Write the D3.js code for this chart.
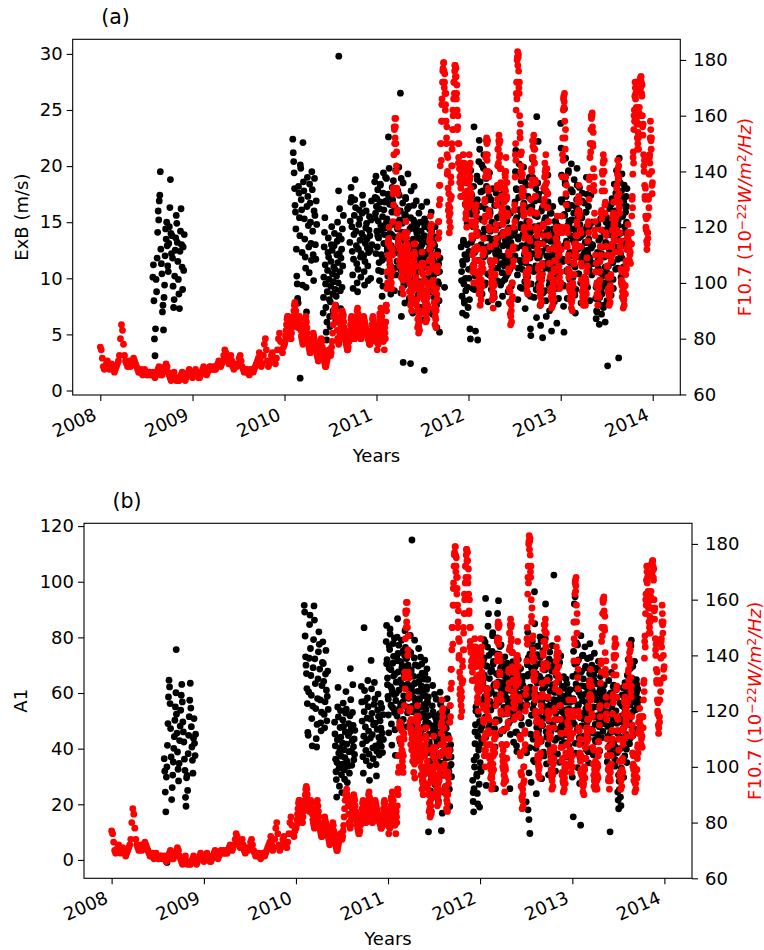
<!DOCTYPE html>
<html>
<head>
<meta charset="utf-8">
<script src="https://cdn.jsdelivr.net/npm/d3@7"></script>
<style>
  body { margin: 0; background: #fff; }
  text { font-family: "DejaVu Sans", sans-serif; }
</style>
</head>
<body>
<svg id="chart" width="764" height="950"></svg>
<script>
// x axis ticks
const years = [2008, 2009, 2010, 2011, 2012, 2013, 2014]

// F10.7 solar flux, one array per year (2008-09 ~4 day steps, 2010-13 ~2 day steps)
const f2008 = [77,76,73,70,69,70,71,72, 70,69,70,71,70,69,68, 69,70,71,72,74,80,85,83, 78,74,72,71,70,71,72,
  70,71,72,73,72,71,70,69, 68,68,69,68,67,68,69, 68,67,67,68,68,67,67,68, 67,66,67,68,69,70,68,67,
  67,68,69,70,71,70,68, 67,66,65,66,67,68,66,65, 66,65,65,66,67,68,67, 66,65,66,67,68,69,68,67]
const f2009 = [66,67,68,69,68,67,66,66, 67,68,69,70,69,68,67, 68,69,70,70,69,69,70,69, 69,70,71,72,71,70,71,
  72,74,76,75,73,72,71,72, 74,72,70,69,70,71,70, 71,73,74,72,70,69,68,69, 68,69,68,67,68,69,69,68,
  69,70,71,72,73,75,72, 70,71,74,78,80,76,72,70, 71,72,74,75,73,72,71, 73,76,80,82,79,76,75,77]
const f2010 = [78,79,81,83,85,87,88,88,87,85,83,81,80,80,82, 84,86,88,90,92,93,92,90,88,86,85,84,85,86,88,
  87,85,83,81,80,79,78,79,81,83,85,87,88,86,84, 82,80,78,77,76,75,75,76,77,79,80,82,81,80,79,
  78,77,76,75,74,73,72,73,75,76,78,79,80,79,77, 76,74,73,72,71,70,70,71,72,73,74,75,76,75,74,
  74,75,77,79,82,85,88,90,91,92,90,88,86,83,80, 79,78,79,81,83,85,87,89,90,89,88,86,84,82,80,
  79,78,77,76,76,77,79,81,83,85,87,88,87,85,83, 81,80,80,82,84,86,88,90,91,89,87,85,83,81,80,
  80,81,82,84,86,88,87,86,85,84,83,82,81,80,80, 79,78,78,79,81,83,85,87,88,87,85,83,81,80,79]
const f2011 = [80,79,79,80,82,84,86,88,89,88,86,84,83,82,81, 80,80,82,86,92,98,104,110,114,116,114,110,106,102,100,
  104,112,122,134,146,155,159,156,150,142,134,126,120,116,114, 113,112,110,108,106,104,102,101,104,108,112,116,118,116,114,
  112,110,108,106,103,100,97,95,94,95,97,100,104,108,111, 110,106,102,98,94,90,87,85,84,86,90,95,100,104,107,
  106,103,100,97,94,92,90,89,90,92,95,99,104,108,112, 116,120,118,114,110,106,101,97,93,90,88,87,90,96,104,
  110,116,122,128,135,142,150,158,166,172,177,179,176,172,168, 164,158,152,146,140,134,128,124,122,125,130,136,142,148,155,
  160,166,172,176,178,177,174,168,162,156,150,145,141,138,136, 134,136,138,140,142,141,139,136,132,128,125,124,127,132,137]
const f2012 = [140,142,141,138,134,128,122,116,110,106,104,106,112,120,128, 124,118,112,108,104,101,99,97,96,98,101,104,107,110,112,
  116,122,130,138,146,151,150,146,140,133,126,119,113,108,104, 102,99,97,95,96,99,103,108,114,121,128,135,142,148,151,
  150,146,141,136,131,127,123,121,122,125,129,134,138,140,136, 131,125,118,111,104,98,93,89,88,90,94,100,106,113,120,
  128,138,150,162,172,180,183,181,176,168,160,152,146,142,138, 134,131,128,124,120,116,112,108,104,101,99,100,104,110,116,
  120,125,130,135,140,145,149,151,148,143,137,131,125,120,117, 114,110,106,102,99,96,95,97,101,107,114,121,128,134,138,
  140,141,139,136,132,127,122,117,112,107,102,98,95,94,95, 96,98,101,104,108,112,116,119,120,118,114,110,106,102,100]
const f2013 = [104,112,124,138,152,162,167,165,158,148,138,128,120,113,108, 105,102,99,97,95,94,93,94,96,99,103,107,110,112,113,
  114,117,121,125,129,131,129,125,119,113,107,101,97,95,96, 98,97,96,95,97,100,104,109,115,122,130,138,145,150,155,
  159,160,156,149,141,133,125,117,110,104,99,96,95,96,98, 100,104,108,113,119,126,133,139,143,144,140,133,125,118,113,
  110,106,102,98,96,95,96,99,103,108,114,119,123,125,121, 117,115,118,123,129,135,139,141,138,132,125,118,111,105,101,
  99,97,95,94,94,96,99,103,108,112,116,118,117,115,112, 110,111,114,118,124,131,139,147,155,162,167,170,168,163,157,
  152,150,152,157,163,169,173,174,172,167,160,153,146,140,135, 130,124,119,115,114,118,124,131,139,146,152,155,148,140,132]
// the other days of 2011-2013 (day after each value above)
const f2011b = [83,76,81,78,85,82,89,86,91,85,88,81,85,79,83, 76,84,80,92,90,104,100,115,110,120,108,113,100,105,98,
  112,110,132,128,156,150,152,159,140,147,125,132,114,121,108, 117,106,113,102,110,98,106,96,110,104,118,112,122,110,118,
  106,113,102,110,97,104,92,99,90,99,93,106,100,114,106, 114,100,106,92,98,84,90,82,88,83,96,90,106,98,111,
  100,107,94,101,89,96,86,93,87,97,91,105,100,115,108, 124,114,121,108,114,99,105,91,97,85,91,84,98,94,110,
  106,122,118,135,130,150,144,164,158,176,172,179,170,175,162, 168,150,156,139,145,126,132,118,127,120,138,131,150,142,162,
  155,172,168,178,174,177,166,171,155,160,143,150,136,142,131, 139,131,143,136,146,137,143,131,137,123,129,120,133,127,142]
const f2012b = [136,146,137,143,130,132,117,121,104,111,100,112,108,126,122, 128,113,117,103,108,96,103,92,100,94,106,99,112,105,116,
  111,129,124,145,140,152,144,151,134,138,120,124,108,113,100, 106,94,101,91,100,95,108,103,119,116,134,130,148,143,153,
  145,151,134,141,125,131,117,126,118,130,124,139,133,145,130, 136,119,124,105,110,93,97,85,92,86,100,95,112,108,126,
  122,146,144,168,166,181,178,182,170,172,154,157,140,147,132, 139,126,133,119,125,111,117,103,109,97,103,96,109,105,122,
  115,130,126,141,137,151,145,153,143,148,131,136,119,125,112, 119,105,111,98,103,92,99,93,106,103,120,117,134,130,143,
  135,146,133,141,127,132,117,122,107,112,97,103,91,98,92, 100,94,105,100,113,108,120,115,124,114,118,106,110,98,104]
const f2013b = [100,120,118,146,144,166,163,168,152,155,132,135,114,118,104, 110,98,104,94,99,91,97,90,100,96,107,103,114,109,117,
  110,122,117,130,126,135,124,129,113,118,101,106,93,99,92, 102,93,99,92,101,96,109,106,121,118,137,134,150,147,160,
  155,161,150,154,135,138,119,122,104,107,95,100,92,99,95, 104,101,113,110,125,123,140,136,146,140,144,128,129,113,117,
  106,110,97,102,92,98,93,102,98,113,110,124,119,129,116, 121,111,123,119,134,131,144,137,142,127,129,113,115,100,104,
  95,100,91,97,92,99,96,107,105,116,113,121,114,118,108, 114,107,118,114,130,127,145,143,160,158,172,166,172,158,161,
  148,154,148,161,160,173,170,174,168,171,156,157,142,144,131, 134,120,123,112,118,116,130,127,145,143,158,151,152,135,136]

// observation windows (decimal years) shared by both black series
const spans = [[2008.57, 2008.91], [2010.09, 2010.35], [2010.42, 2010.64], [2010.71, 2010.95], [2010.98, 2011.69],
  [2011.92, 2012.47], [2012.50, 2012.98], [2013.00, 2013.35], [2013.38, 2013.72]]

// ExB drift (m/s), panel (a)
const exb08 = [10.1,11.2,8.0,4.6,3.1,5.5,9.9,8.8,11.8,14.1,16.0,15.2,16.9,17.4,19.5,12.6,11.3,10.4,7.0,7.6,5.4,8.3,9.4,12.0,14.4,13.5,15.0,12.9,11.1,10.6,
  13.1,14.6,16.3,18.8,14.0,12.2,13.8,11.8,9.3,7.4,8.1,10.2,12.5,13.6,15.6,14.9,13.2,11.5,9.9,8.6,7.3,12.4,14.2,16.2,13.0,11.0,9.0,12.8,10.7,13.9]
const exb10a = [22.4,21.2,20.4,19.4,18.0,16.5,15.9,14.4,12.6,10.2,9.5,8.2,7.8,18.2,17.6,15.4,13.8,20.1,19.8,17.0,16.1,12.3,9.4,22.1,18.6,17.8,15.3,13.5,
  11.9,10.9,9.2,7.0,16.4,19.0,17.3,14.7,12.8,10.5,18.4,16.7,15.0,13.1,11.6,19.5,17.9,14.2,12.1,9.8,16.0,18.9,15.6,13.0,11.7,16.9,14.8]
const exb10b = [6.9,8.3,10.1,12.8,14.1,15.4,11.2,9.5,7.4,5.2,4.5,6.1,8.8,10.7,12.3,13.6,11.9,9.9,8.1,6.6,5.7,7.9,9.3,11.5,13.0,14.6,12.5,10.4,8.6,7.1,
  9.7,11.0,12.9,14.0,10.8,9.0,7.6,6.2,8.4,10.2,12.1,13.3,15.0,11.4,9.6,17.8,13.8,12.2,16.2,10.6,8.9,7.3,11.8,13.5,12.6,9.2,14.4,11.1,6.8,15.6]
const exb10c = [13.2,15.1,16.8,18.1,17.2,14.6,12.4,10.3,9.1,11.7,13.9,15.6,17.0,18.8,16.3,14.2,12.9,11.3,9.6,8.8,10.8,12.6,14.8,16.1,15.3,13.4,11.9,10.1,
  12.2,14.0,15.8,17.4,16.6,13.7,12.0,10.6,9.4,11.5,13.1,14.5,16.0,14.9,13.5,12.7,11.1,9.8,12.3,14.3,15.5,13.8,12.5,10.0,15.2,16.9,13.0]
const exb11 = [18.6,17.2,15.8,19.1,16.4,14.2,12.8,17.9,15.1,13.6,11.4,9.8,16.8,18.3,14.7,12.1,10.6,8.4,15.5,17.6,19.4,16.1,13.9,11.8,7.2,14.5,16.9,18.9,
  15.3,12.4,10.2,13.3,17.3,19.8,16.6,14.0,11.1,9.1,12.9,15.9,18.1,17.0,14.8,12.6,10.9,8.9,13.7,16.3,19.6,15.0,12.3,11.5,14.4,17.7,16.0,
  19.9,17.4,15.2,13.0,10.8,8.7,6.6,12.7,14.9,16.7,18.5,13.4,11.3,9.4,7.8,15.7,17.1,12.0,10.1,14.1,16.2,19.3,13.1,11.0,8.2,9.9,12.5,15.4,
  17.8,14.6,11.7,10.4,6.9,13.5,16.5,18.2,15.0,12.2,9.6,14.3,
  16.9,14.7,12.3,10.6,8.5,13.6,15.8,11.9,9.7,7.4,12.8,14.2,16.4,13.0,10.9,8.9,6.3,11.4,13.8,15.3,12.1,10.0,8.1,14.9,16.8,13.3,11.2,9.4,
  7.0,12.6,14.4,10.7,8.8,13.9,15.9,12.0,9.9,6.8,11.6,13.2,10.3,8.3,12.9,14.6,11.0,9.1,7.6,5.6,10.5,12.4,13.6,9.5,8.0,5.2,11.8]
const exb12a = [12.8,10.6,8.4,6.9,11.2,13.4,9.5,7.8,12.1,10.0,8.9,6.7,11.7,13.0,9.2,7.4,10.8,12.4,8.1,5.5,
  4.6,15.8,13.2,17.4,11.0,9.1,14.6,18.2,16.1,12.3,10.2,5.3,13.8,15.9,19.1,17.0,14.1,11.6,20.4,22.3,21.5,18.6,16.4,13.0,10.7,8.6,15.2,17.8,
  19.8,21.0,14.4,12.0,9.6,16.9,18.9,15.5,12.8,10.4,7.9,13.6,17.3,19.4,16.0,14.2,11.4,9.0,15.0,12.6,18.0,13.5,10.9,8.3,16.5,14.8,12.2,17.6,
  11.8,9.8,15.4,13.1,
  7.7,12.4,14.7,16.8,11.3,9.4,13.9,15.6,10.5,8.4,12.9,17.9,14.0,11.1,9.9,13.4,15.3,10.2,12.0,16.2,13.7,8.8,11.5,14.5,12.7,10.8,15.8,13.2,9.3,11.9]
const exb12b = [14.2,16.8,19.5,21.4,18.0,15.4,12.7,10.3,8.1,13.5,17.2,20.2,16.1,11.6,9.2,14.8,18.7,15.7,12.9,10.8,13.9,17.6,19.9,16.6,12.1,9.7,7.3,11.4,
  14.5,18.3,15.1,13.0,10.1,8.6,12.5,16.3,19.0,14.0,11.8,5.5,4.9,9.5,13.3,17.0,20.6,15.9,12.2,10.6,8.3,14.6,16.9,13.6,11.1,9.0,6.5,12.8,15.5,
  18.5,22.2,17.5,14.3,11.9,9.9,7.6,5.8,13.1,16.0,12.4,10.4,4.7,8.7,11.3,14.9,17.8,15.2,13.4,10.9,8.0,6.6,12.0,14.1,16.6,19.2,13.8,11.5,9.4,
  7.1,12.6,15.8,10.7,8.8,5.3,11.0,13.7,16.4,14.4,12.3,9.6,7.9,10.2,13.0,15.0,11.7,9.1,6.0,12.9,14.7,10.5,8.2,11.2]
const exb13a = [23.8,21.6,19.2,16.8,14.1,11.7,9.4,7.5,5.2,12.9,15.6,18.4,20.7,17.3,13.3,10.6,8.2,14.7,16.2,19.6,15.1,12.2,9.9,11.4,13.8,17.9,20.2,
  16.5,14.4,12.0,10.1,8.6,15.8,18.8,13.1,11.0,6.9,9.0,14.0,17.0,19.8,15.3,12.6,10.4,13.6,16.0,18.1,14.8,11.9,9.6,7.8,12.8,15.4,17.6,13.9,
  11.2,8.8,14.3,16.7,12.4,10.0,13.2,15.9,19.0,14.6,11.6,9.2,12.1,16.4,13.5,10.8,8.0,11.8,14.9,17.4,12.7,10.3,15.0,13.0,11.3]
const exb13b = [8.2,6.4,7.1,9.6,12.3,14.8,10.9,7.7,5.9,11.5,13.6,15.3,9.0,6.8,8.6,12.8,10.2,7.4,14.1,11.9,9.3,6.1,13.2,15.0,10.6,8.0,12.0,14.5,11.1,
  9.8,13.9,16.2,12.6,10.3,8.5,14.9,17.1,13.0,11.4,9.1,15.7,18.4,16.0,12.4,10.8,14.2,19.6,17.5,13.5,11.7,15.2,18.9,20.7,16.6,14.0,12.2,10.1,
  17.8,19.3,15.5,13.3,11.0,16.8,18.3,14.6,12.9,15.9,17.3,16.4,18.0]
// second set of days inside the longer windows (2011 to 2013)
const exb11b = [15.4,12.2,17.1,13.8,10.7,16.2,18.4,14.3,11.6,9.3,13.1,16.8,19.0,15.0,12.7,17.5,14.6,11.2,8.6,13.9,16.5,18.7,15.9,12.4,10.3,
  14.9,17.8,13.3,11.0,16.0,18.9,14.1,12.0,9.5,15.6,17.2,13.6,10.8,12.9,16.4,14.4,11.7,9.0,13.0,15.2,12.5,10.2,8.0,14.0,11.4,
  9.6,12.8,15.0,13.4,10.9,8.8,11.9,14.6,12.3,9.9,7.6,13.2,11.1,10.0,12.6,14.2,9.2,11.5,13.7,10.5,8.4,12.1,9.7,11.3,10.6]
const exb12ab = [9.8,11.5,13.2,8.0,16.6,18.5,14.9,12.1,10.0,17.2,19.6,15.7,13.5,11.2,9.0,14.6,16.9,18.8,12.8,10.6,15.3,17.7,20.1,13.9,11.9,
  9.4,16.2,18.2,14.3,12.4,10.3,15.8,17.0,13.2,11.0,8.7,14.8,16.5,12.6,10.9,13.6,15.5,17.4,12.0,9.7,14.1,16.0,11.6,13.0,15.1,10.4,12.9,14.4,11.3,13.8]
const exb12bb = [12.0,15.2,17.9,13.7,10.9,16.1,19.3,14.5,11.4,9.1,13.8,16.7,18.6,12.6,10.2,15.0,17.3,13.1,11.0,8.4,14.2,16.4,19.0,12.9,10.7,
  15.6,18.0,13.5,11.8,9.5,14.7,17.0,12.3,10.1,16.3,13.9,11.3,8.9,15.4,12.7,14.4,16.8,11.6,9.8,13.3,15.8,12.1,10.5,14.0,12.8,15.1,11.1,13.6,10.8,12.4]
const exb13ab = [17.0,14.2,11.5,9.3,15.7,18.6,13.0,10.7,16.6,19.4,14.9,12.3,10.0,15.2,17.7,13.4,11.2,8.5,14.4,16.3,18.3,12.7,10.4,15.5,13.7,
  11.8,16.9,14.0,12.1,9.8,13.2,15.9,17.5,12.5,10.9,14.6,13.1,11.4,15.0,12.9]
const exb13bb = [9.2,7.0,11.6,13.4,8.3,10.5,12.2,14.3,9.6,7.6,11.0,13.0,15.4,10.1,8.8,12.5,14.8,16.6,11.4,9.9,13.6,15.9,17.6,12.8,10.9,
  14.7,16.9,18.5,13.3,11.8,15.6,17.2,14.1,16.3,15.0]
// isolated ExB days [decimal year, value]
const exbExtra = [[2010.17, 1.1], [2010.59, 29.8], [2011.13, 22.6], [2011.26, 26.5], [2011.29, 2.5], [2011.37, 2.4], [2011.52, 1.8],
  [2011.74, 9.2], [2012.06, 23.5], [2012.10, 4.5], [2012.74, 24.4], [2013.04, 25.1], [2013.51, 2.2], [2013.63, 2.9]]

// A1 values, panel (b)
const a1_08 = [36.4,31.9,24.4,17.3,29.8,33.4,41.2,49.0,58.6,64.6,62.2,56.2,47.2,37.0,21.7,26.0,30.5,35.2,40.1,44.3,50.2,55.0,60.1,52.4,45.6,38.8,
  32.6,28.4,34.7,42.9,48.1,53.8,59.2,63.1,56.8,49.6,46.0,42.4,36.2,32.2,22.5,19.3,29.5,30.4,25.0,38.2,44.8,51.5,57.4,63.5,54.6,47.9,40.6,
  35.8,31.2,43.7,50.8,41.9,37.5,45.2]
const a1_10a = [91.5,89.1,80.5,73.0,70.0,67.0,61.6,56.2,45.8,44.8,60.4,72.5,84.6,88.0,76.0,66.3,59.2,50.8,41.0,55.3,69.1,79.2,91.3,86.2,72.3,63.4,
  54.4,43.6,40.6,48.7,58.0,65.1,74.8,82.0,77.5,68.6,57.5,49.3,46.4,53.1,62.7,71.0,78.4,70.6,64.2,52.3,47.5,56.9,66.8,75.3,61.0,50.0,58.8,67.9,54.1]
const a1_10b = [49.5,45.3,41.0,36.2,31.7,28.9,22.6,35.0,43.2,55.0,62.0,51.4,38.4,33.0,26.5,40.2,47.6,53.7,44.1,37.3,30.6,24.2,34.4,42.0,50.3,56.4,
  48.0,39.6,32.4,29.0,36.8,46.0,52.8,60.5,54.2,41.6,35.5,27.8,21.8,33.7,44.7,49.0,38.9,31.2,45.9,51.8,68.8,57.6,47.1,39.2,34.0,42.8,53.0,63.0,
  48.4,40.7,36.0,43.5,37.9,46.6]
const a1_10c = [62.4,56.8,49.9,41.7,37.1,31.2,44.5,53.3,60.9,57.0,47.8,39.4,35.6,42.9,51.0,58.2,64.5,55.1,46.3,38.0,28.6,33.9,43.8,50.6,71.7,61.5,
  52.7,45.0,40.3,36.4,48.6,55.9,63.8,57.9,49.2,41.0,34.3,30.2,39.1,46.9,53.9,59.6,51.6,44.0,37.7,42.2,50.0,56.3,47.4,40.8,54.7,45.6,38.6,52.2,43.3]
const a1_11 = [78.5,84.3,72.0,65.4,58.8,52.1,45.7,68.9,75.6,81.2,62.3,55.6,48.9,41.3,60.2,70.7,77.8,66.1,59.5,53.0,46.8,37.6,57.3,63.9,72.9,80.1,
  86.7,74.2,67.6,61.0,54.4,49.6,42.5,64.7,71.3,79.0,69.2,62.8,56.7,50.5,59.0,66.5,73.6,82.4,76.4,68.0,61.6,55.0,47.9,63.2,70.0,58.1,65.8,74.9,60.7,
  80.7,74.5,68.3,61.9,55.2,48.0,41.7,58.4,66.0,72.6,79.0,63.5,56.9,50.1,44.4,35.9,53.6,60.6,69.7,76.0,64.3,57.7,51.2,45.5,39.8,62.6,70.4,67.1,
  59.8,52.5,47.0,55.8,65.0,71.8,58.9,49.4,54.1,61.3,68.7,57.0,
  64.9,58.6,51.9,45.2,38.5,31.0,24.8,17.0,40.7,48.3,55.4,62.7,53.2,46.6,39.9,33.3,27.1,44.0,50.9,57.8,49.7,42.6,35.7,29.2,21.3,37.9,45.9,52.6,
  60.3,55.9,48.8,41.9,34.8,16.8,30.4,43.1,50.3,46.5,39.3,32.5,26.3,36.6,47.3,54.0,58.0,51.5,44.8,38.2,31.8,25.4,19.2,33.9,41.4,37.0,29.9]
const a1_12a = [28.6,21.0,17.3,25.6,33.4,41.8,48.6,55.0,37.2,30.1,23.9,44.5,52.3,39.5,27.2,19.0,35.0,46.7,31.8,42.0,
  48.0,56.2,63.5,71.8,79.2,66.4,58.7,51.3,44.0,26.8,61.0,69.6,76.5,84.0,88.5,73.5,65.2,57.0,49.5,53.9,60.5,68.2,75.0,81.7,70.3,62.6,55.4,47.2,
  40.6,25.6,59.3,67.0,74.1,79.8,72.2,64.0,56.6,50.2,45.3,62.0,69.0,77.3,71.0,63.7,57.9,52.4,46.4,54.8,66.2,73.0,60.1,68.5,58.2,64.8,70.7,61.8,
  55.6,49.0,63.0,67.8,
  25.6,45.1,52.8,60.8,67.3,74.6,58.3,50.7,42.3,55.0,63.3,70.0,61.2,53.5,46.0,39.0,57.4,65.6,72.0,59.6,51.8,44.8,62.3,68.8,56.0,48.5,64.4,54.2,60.0,66.0]
const a1_12b = [20.9,38.5,55.7,70.2,81.8,66.7,49.4,31.3,58.6,74.0,62.1,45.2,27.9,52.0,67.5,78.6,60.0,43.4,35.8,56.3,71.5,84.9,69.4,53.0,40.1,23.8,
  47.6,63.6,76.8,59.1,44.9,33.6,51.4,66.0,80.2,72.8,57.2,42.7,29.2,48.3,61.4,75.2,64.7,50.9,37.4,55.2,68.3,79.6,62.9,46.1,34.5,53.6,70.9,58.0,
  41.5,30.6,49.9,65.3,74.7,60.6,45.8,36.7,54.5,67.9,77.0,63.0,48.9,39.0,57.6,71.2,56.1,43.0,31.9,52.7,66.3,60.9,47.0,38.1,55.1,69.8,64.1,50.4,
  35.1,46.9,59.4,73.3,58.5,44.2,53.3,62.4,40.9,28.0,49.1,61.7,57.0,42.2,33.0,51.0,65.0,54.0,45.0,37.0,48.0,59.9,52.1,41.0,47.8,56.6,50.0,44.0]
const a1_13a = [29.8,49.6,58.0,75.0,85.5,92.0,70.4,53.8,38.4,63.2,78.1,66.9,46.7,33.2,55.5,71.9,60.3,44.0,27.5,51.2,67.4,80.6,62.6,48.2,36.3,57.3,
  73.6,65.1,50.6,41.4,59.5,76.6,69.0,54.3,39.7,47.5,61.8,72.4,56.8,43.6,34.9,52.4,64.4,77.7,68.2,53.1,40.0,58.9,70.0,61.0,45.6,37.8,55.0,66.5,
  74.3,59.7,48.7,42.5,57.8,68.9,63.5,51.9,45.0,60.0,71.4,54.8,47.9,39.2,56.0,65.9,62.1,50.2,43.9,58.3,52.8,46.2,60.7,55.9,49.0,53.5]
const a1_13b = [35.2,48.0,57.6,64.5,52.3,41.2,31.6,45.8,60.0,67.4,55.1,43.0,37.9,50.4,62.8,58.1,46.3,33.7,40.5,53.6,61.2,49.1,38.6,24.4,21.5,18.4,
  28.3,44.2,56.4,22.6,19.5,33.0,51.8,59.3,47.0,36.4,29.7,42.1,54.6,63.7,58.8,45.1,39.8,35.0,50.8,66.2,72.0,60.7,48.6,41.8,55.7,68.8,77.0,79.0,
  65.3,53.0,44.6,38.2,57.0,62.0,71.4,64.0,54.0,46.9,59.9,63.0,56.0,61.5,58.0,54.5]
const a1_11b = [70.5,63.0,57.8,76.9,83.0,68.4,61.4,54.7,73.2,79.7,66.9,59.9,51.7,71.6,77.2,64.0,56.1,48.5,69.7,75.1,62.1,58.6,66.0,72.4,52.9,67.3,61.9,
  74.0,67.5,60.4,53.3,46.9,63.4,70.1,56.5,49.8,43.0,58.0,65.9,72.9,61.1,54.9,47.7,59.2,66.8,51.0,62.2,
  56.3,49.2,42.4,35.5,28.8,22.7,45.7,52.2,59.5,47.9,40.9,33.9,27.6,43.6,50.6,57.1,46.1,38.7,31.5,24.3,41.1,48.2,53.4,44.3,36.9,30.0,39.5,34.3]
const a1_12ab = [24.2,35.9,46.0,53.5,30.8,20.1,40.7,49.8,32.9,43.3,
  57.5,64.9,72.6,78.3,69.8,61.7,54.0,47.7,59.8,67.6,74.6,80.6,71.4,63.1,55.9,50.4,58.5,66.6,73.9,76.7,68.0,60.9,53.0,46.9,62.9,70.2,65.7,57.3,64.1,69.4,
  49.9,57.8,65.0,71.3,61.6,53.8,45.8,41.0,59.0,66.7,55.3,63.9,51.1,58.9,62.7]
const a1_12bb = [57.9,66.1,72.6,49.0,40.4,61.0,69.0,76.3,54.4,44.6,35.3,59.6,67.0,73.8,52.6,46.5,63.8,70.5,78.7,56.9,48.4,38.7,61.9,68.6,51.9,
  44.1,58.2,65.6,72.2,55.6,47.3,39.6,62.6,69.5,53.8,60.2,67.2,50.5,43.8,57.5,64.6,71.0,54.9,48.1,41.8,59.0,65.9,52.3,46.6,56.7,63.4,50.8,58.8,54.2,61.2]
const a1_13ab = [66.0,57.1,48.8,41.9,61.5,70.8,77.3,55.8,46.4,36.8,59.0,67.8,73.4,52.7,44.5,62.4,69.6,56.4,49.5,38.9,60.8,66.9,72.8,54.1,47.0,
  58.5,64.7,51.3,43.2,57.6,63.3,68.4,55.2,49.8,61.2,53.4,59.3,56.9,50.6,62.9]
const a1_13bb = [44.4,53.0,59.5,39.2,48.8,56.8,62.3,42.5,36.1,51.3,58.4,45.5,30.5,25.3,40.0,49.6,55.4,61.9,47.5,37.4,52.9,60.5,66.5,57.8,50.0,
  43.7,56.5,63.2,69.6,60.1,53.9,58.3,64.8,61.0,57.3]
const a1Extra = [[2008.60, -0.9], [2008.70, 75.6], [2010.74, 83.5], [2011.26, 115.0], [2011.44, 10.1], [2011.58, 10.5], [2011.47, 17.4],
  [2012.06, 94.0], [2012.19, 88.6], [2012.20, 93.2], [2012.52, 18.0], [2012.53, 14.5], [2012.54, 9.5], [2012.59, 96.4], [2012.71, 92.0],
  [2012.80, 102.4], [2013.01, 15.5], [2013.03, 94.6], [2013.09, 12.5], [2013.41, 10.1]]

const fluxYears = [f2008, f2009, f2010, f2011, f2012, f2013]
const oddYears = [2011, 2012, 2013]
const fluxOdd = [f2011b, f2012b, f2013b]
const exbSets = [exb08, exb10a, exb10b, exb10c, exb11, exb12a, exb12b, exb13a, exb13b]
const exbSets2 = [exb11b, exb12ab, exb12bb, exb13ab, exb13bb]
const a1Sets = [a1_08, a1_10a, a1_10b, a1_10c, a1_11, a1_12a, a1_12b, a1_13a, a1_13b]
const a1Sets2 = [a1_11b, a1_12ab, a1_12bb, a1_13ab, a1_13bb]

function decYear(y) {
    const yr = Math.floor(y)
    const a = new Date(yr, 0, 1), b = new Date(yr + 1, 0, 1)
    return new Date(+a + (y - yr) * (b - a))
}

// days spread over each observation window; second sets fall between the first ones
function clusterPoints(sets, sets2, extra) {
    const pts = []
    sets.forEach((vals, i) => {
        const [s0, s1] = spans[i]
        vals.forEach((v, j) => pts.push({date: decYear(s0 + (s1 - s0) * j / (vals.length - 1)), value: v}))
    })
    sets2.forEach((vals, i) => {
        const [s0, s1] = spans[i + 4]
        vals.forEach((v, j) => pts.push({date: decYear(s0 + (s1 - s0) * (j + 0.5) / vals.length), value: v}))
    })
    extra.forEach(d => pts.push({date: decYear(d[0]), value: d[1]}))
    return pts
}

const fluxPoints = []
fluxYears.forEach((vals, k) => {
    const start = new Date(2008 + k, 0, 1)
    vals.forEach((v, i) => {
        fluxPoints.push({date: d3.timeDay.offset(start, Math.round(i * 365 / vals.length)), value: v})
    })
})
fluxOdd.forEach((vals, k) => {
    const start = new Date(oddYears[k], 0, 1)
    vals.forEach((v, i) => {
        fluxPoints.push({date: d3.timeDay.offset(start, Math.round(i * 365 / vals.length) + 1), value: v})
    })
})

const svg = d3.select('#chart')
const FS = 18

function drawPanel(p) {
    const g = svg.append('g')
    const x = d3.scaleTime()
        .domain([decYear(2007.70), decYear(2014.30)])
        .range([p.left, p.right])
    const y = d3.scaleLinear().domain(p.yDomain).range([p.bottom, p.top])
    const y2 = d3.scaleLinear().domain(p.y2Domain).range([p.bottom, p.top])

    g.append('g')
        .selectAll('circle')
        .data(p.points)
        .join('circle')
            .attr('cx', d => x(d.date))
            .attr('cy', d => y(d.value))
            .attr('r', 3.4)
            .attr('fill', '#000')

    g.append('g')
        .selectAll('circle')
        .data(fluxPoints)
        .join('circle')
            .attr('cx', d => x(d.date))
            .attr('cy', d => y2(d.value))
            .attr('r', 3.4)
            .attr('fill', '#ff0000')

    g.append('rect')
        .attr('x', p.left)
        .attr('y', p.top)
        .attr('width', p.right - p.left)
        .attr('height', p.bottom - p.top)
        .attr('fill', 'none')
        .attr('stroke', '#000')
        .attr('stroke-width', 1.1)

    const xAxis = d3.axisBottom(x)
        .tickValues(years.map(yr => new Date(yr, 0, 1)))
        .tickFormat(d3.timeFormat('%Y'))
        .tickSize(6)
        .tickSizeOuter(0)
    const xg = g.append('g')
        .attr('transform', `translate(0, ${p.bottom})`)
        .call(xAxis)
    xg.selectAll('text')
        .attr('x', 0).attr('y', 0).attr('dy', 0)
        .attr('text-anchor', 'end')
        .attr('transform', 'translate(-3, 24) rotate(-24)')

    const yg = g.append('g')
        .attr('transform', `translate(${p.left}, 0)`)
        .call(d3.axisLeft(y).tickValues(p.yTicks).tickSize(6).tickPadding(4).tickSizeOuter(0))

    const y2g = g.append('g')
        .attr('transform', `translate(${p.right}, 0)`)
        .call(d3.axisRight(y2).tickValues([60, 80, 100, 120, 140, 160, 180]).tickSize(6).tickPadding(7).tickSizeOuter(0))

    ;[xg, yg, y2g].forEach(a => {
        a.select('.domain').remove()
        a.selectAll('line').attr('stroke', '#000').attr('stroke-width', 1.1)
        a.selectAll('text').attr('font-size', FS).attr('fill', '#000')
            .style('font-family', '"DejaVu Sans", sans-serif')
    })

    // titles and labels
    g.append('text')
        .text(p.title)
        .attr('x', p.left + 28.5)
        .attr('y', p.top - 15)
        .attr('font-size', 20.5)

    g.append('text')
        .text('Years')
        .attr('x', (p.left + p.right) / 2)
        .attr('y', p.bottom + 66.5)
        .attr('text-anchor', 'middle')
        .attr('font-size', FS)

    g.append('text')
        .text(p.yLabel)
        .attr('text-anchor', 'middle')
        .attr('font-size', FS)
        .attr('transform', `translate(${p.yLabelX}, ${(p.top + p.bottom) / 2}) rotate(-90)`)

    const r = g.append('text')
        .attr('text-anchor', 'middle')
        .attr('font-size', FS)
        .attr('fill', '#ff0000')
        .attr('transform', `translate(${p.rLabelX}, ${(p.top + p.bottom) / 2}) rotate(-90)`)
    r.append('tspan').text('F10.7 (10')
    r.append('tspan').text('\u221222').attr('font-size', 12.6).attr('dy', -5)
    r.append('tspan').text('W/m').attr('font-style', 'italic').attr('dy', 5)
    r.append('tspan').text('2').attr('font-size', 12.6).attr('dy', -5)
    r.append('tspan').text('/Hz').attr('font-style', 'italic').attr('dy', 5)
    r.append('tspan').text(')')
}

drawPanel({
    title: '(a)', yLabel: 'ExB (m/s)', yLabelX: 28, rLabelX: 751,
    left: 72.7, right: 680.3, top: 39.3, bottom: 395,
    yDomain: [-0.4, 31.3], y2Domain: [59.8, 187.4],
    yTicks: [0, 5, 10, 15, 20, 25, 30],
    points: clusterPoints(exbSets, exbSets2, exbExtra)
})

drawPanel({
    title: '(b)', yLabel: 'A1', yLabelX: 26.7, rLabelX: 760.5,
    left: 84, right: 692, top: 523.3, bottom: 878.3,
    yDomain: [-6.6, 121], y2Domain: [60, 187.4],
    yTicks: [0, 20, 40, 60, 80, 100, 120],
    points: clusterPoints(a1Sets, a1Sets2, a1Extra)
})
</script>
</body>
</html>
